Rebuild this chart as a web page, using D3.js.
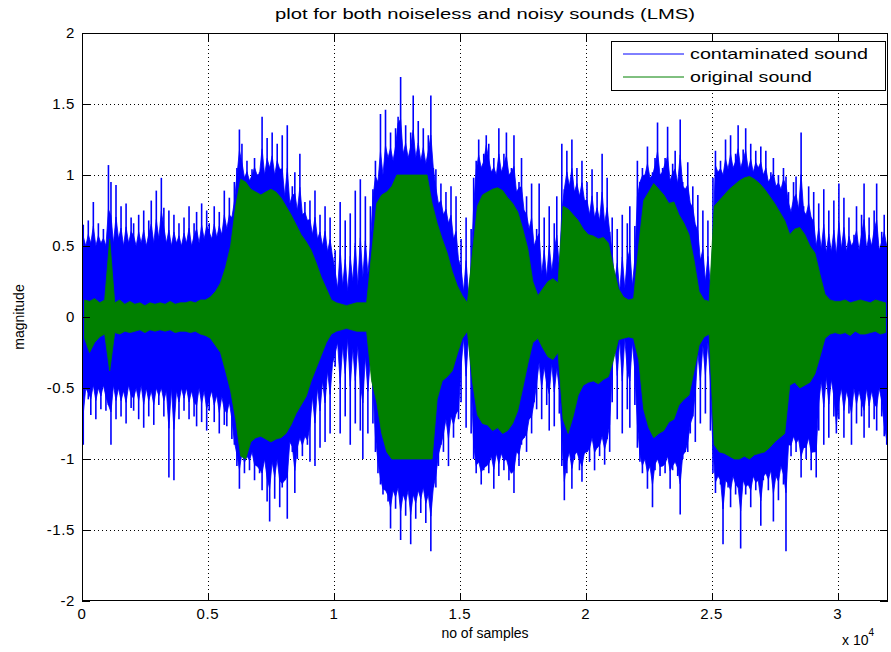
<!DOCTYPE html>
<html><head><meta charset="utf-8">
<script src="https://cdn.jsdelivr.net/npm/d3@7"></script>
<style>
body{margin:0;background:#fff}
svg{display:block}
text{font-family:"Liberation Sans",Arial,Helvetica,sans-serif;fill:#000}
</style>
</head><body>
<svg id="chart" width="891" height="652"></svg>
<script>
// ---------- data ----------
const chartTitle = "plot for both noiseless and noisy sounds (LMS)";
const xAxisLabel = "no of samples";
const yAxisLabel = "magnitude";
const xExponent = "4";
const seriesNames = ["contaminated sound", "original sound"];
const xTickValues = [0, 5000, 10000, 15000, 20000, 25000, 30000];
const xTickLabels = ["0", "0.5", "1", "1.5", "2", "2.5", "3"];
const yTickValues = [-2, -1.5, -1, -0.5, 0, 0.5, 1, 1.5, 2];
const yTickLabels = ["-2", "-1.5", "-1", "-0.5", "0", "0.5", "1", "1.5", "2"];
const sampleCount = 32000;

// contaminated sound: max / min of each block of 100 samples
const contaminatedBlock = 100;
const contaminatedMax = [
0.65,0.50,0.68,0.52,0.81,0.50,0.66,0.52,0.62,0.50,
1.07,0.95,0.52,0.93,0.55,0.78,0.50,0.80,0.52,0.70,
0.66,0.50,0.72,0.52,0.75,0.50,0.68,0.82,0.52,0.89,
0.55,0.98,0.77,0.52,0.75,0.50,0.72,0.52,0.66,0.50,
0.70,0.52,0.78,0.50,0.66,0.74,0.52,0.80,0.55,0.75,
0.66,0.55,0.78,0.56,0.74,0.58,0.89,0.62,0.84,0.70,
0.95,1.05,1.32,1.22,0.98,1.10,0.96,1.04,1.12,1.00,
1.02,1.41,1.00,1.26,1.05,1.30,1.00,1.22,1.04,1.28,
0.85,1.35,0.80,0.92,1.02,0.75,1.15,0.72,0.81,0.68,
0.82,0.58,0.89,0.55,0.72,0.50,0.78,0.46,0.70,0.42,
0.47,0.20,0.81,0.22,0.68,0.18,0.73,0.25,0.89,0.22,
0.97,0.28,0.85,0.30,0.78,0.90,1.10,0.95,1.43,1.00,
1.46,1.12,1.30,1.10,1.33,1.41,1.69,1.15,1.35,1.12,
1.30,1.56,1.12,1.38,1.10,1.33,1.08,1.28,1.56,1.05,
1.04,0.80,0.94,0.72,0.88,0.66,0.92,0.55,0.85,0.40,
0.55,0.18,0.70,0.15,0.62,0.98,1.10,1.25,1.05,1.15,
1.28,1.22,1.02,1.12,1.00,1.33,1.02,1.15,1.30,1.00,
1.05,1.28,0.88,0.95,1.12,0.75,0.85,0.62,0.94,0.50,
0.62,0.94,0.30,0.70,0.28,0.78,0.32,0.66,0.85,0.35,
1.22,0.90,1.17,0.92,1.25,0.88,1.05,0.85,1.10,0.82,
0.95,0.72,1.04,0.70,0.88,0.68,1.15,0.66,0.98,0.60,
0.70,0.25,0.62,0.18,0.72,0.20,0.66,0.78,0.22,0.64,
1.10,0.95,1.05,1.00,1.20,0.98,1.02,1.12,1.37,1.00,
1.05,1.12,1.34,0.96,1.08,1.17,0.94,1.39,0.95,0.90,
1.09,0.80,0.92,0.65,0.86,0.40,0.75,0.25,0.68,0.22,
0.98,1.17,1.02,1.10,1.00,1.25,1.04,1.28,1.05,1.15,
1.35,1.05,1.18,1.33,1.04,1.22,1.02,1.17,1.05,1.20,
1.00,1.17,0.95,1.02,1.12,0.92,1.00,0.90,1.05,0.99,
0.88,0.74,0.95,0.99,0.76,1.30,0.78,0.72,0.92,0.70,
0.88,0.50,0.80,0.48,0.90,0.45,0.75,0.46,0.82,0.44,
0.94,0.48,0.84,0.46,0.70,0.50,0.58,0.78,0.47,0.72,
0.94,0.48,0.70,0.50,0.75,0.94,0.47,0.60,0.72,0.50
];
const contaminatedMin = [
-0.90,-0.50,-0.58,-0.69,-0.48,-0.72,-0.50,-0.65,-0.48,-0.66,
-0.62,-0.90,-0.48,-0.72,-0.50,-0.70,-0.52,-0.75,-0.48,-0.64,
-0.66,-0.50,-0.72,-0.48,-0.78,-0.50,-0.70,-0.52,-0.76,-0.50,
-0.62,-0.50,-0.70,-0.52,-1.13,-0.50,-1.15,-0.52,-0.72,-0.50,
-0.66,-0.50,-0.72,-0.52,-0.70,-0.77,-0.50,-0.74,-0.52,-0.80,
-0.66,-0.52,-0.74,-0.55,-0.82,-0.56,-0.76,-0.77,-0.60,-0.86,
-0.90,-1.05,-1.21,-0.96,-1.10,-0.98,-1.08,-0.95,-1.15,-1.05,
-1.10,-1.22,-1.00,-1.30,-1.44,-1.02,-1.28,-1.00,-1.34,-1.20,
-1.15,-1.42,-0.88,-0.95,-1.24,-1.00,-0.85,-0.98,-0.84,-0.90,
-1.02,-0.56,-1.05,-0.50,-0.92,-0.45,-0.88,-0.38,-0.82,-0.32,
-0.35,-0.18,-0.82,-0.20,-0.70,-0.15,-0.90,-0.22,-0.75,-0.20,
-0.80,-1.00,-0.28,-0.82,-0.30,-0.75,-0.95,-1.10,-1.18,-1.25,
-1.22,-1.30,-1.49,-1.22,-1.35,-1.20,-1.57,-1.25,-1.40,-1.22,
-1.60,-1.25,-1.42,-1.22,-1.38,-1.20,-1.45,-1.25,-1.65,-1.20,
-1.20,-1.05,-0.90,-0.95,-0.72,-1.05,-0.70,-0.85,-0.68,-0.72,
-0.60,-0.15,-0.78,-0.12,-0.82,-1.00,-1.10,-1.02,-1.18,-1.08,
-1.05,-1.10,-0.98,-1.21,-0.96,-1.12,-0.96,-1.08,-1.00,-1.15,
-1.10,-1.24,-0.95,-1.05,-0.90,-0.85,-0.95,-0.72,-0.82,-0.60,
-0.65,-0.32,-0.72,-0.35,-0.62,-0.80,-0.33,-0.77,-0.36,-0.68,
-1.05,-1.29,-1.10,-0.95,-1.21,-1.00,-0.95,-1.08,-1.16,-0.96,
-0.95,-1.02,-0.85,-1.08,-0.92,-0.98,-0.84,-1.04,-0.86,-0.95,
-0.60,-0.18,-0.72,-0.16,-0.82,-0.15,-0.65,-0.78,-0.18,-0.62,
-0.92,-1.02,-1.10,-1.00,-1.21,-1.05,-1.34,-1.08,-1.00,-1.12,
-1.05,-1.10,-0.98,-1.21,-1.08,-1.02,-1.12,-1.39,-1.00,-0.95,
-0.95,-0.82,-0.70,-0.88,-0.25,-0.75,-0.20,-0.68,-0.18,-0.80,
-1.10,-1.24,-1.12,-1.18,-1.60,-1.15,-1.20,-1.34,-1.12,-1.25,
-1.20,-1.63,-1.15,-1.25,-1.18,-1.34,-1.12,-1.22,-1.15,-1.47,
-1.15,-1.10,-1.22,-1.08,-1.44,-1.12,-1.29,-1.05,-1.18,-1.65,
-0.90,-0.98,-0.84,-0.95,-0.86,-1.13,-0.92,-1.00,-0.85,-1.08,
-0.95,-1.13,-0.80,-0.45,-0.90,-0.42,-0.85,-0.44,-0.70,-0.82,
-0.72,-0.50,-0.85,-0.52,-0.68,-0.90,-0.50,-0.75,-0.52,-0.70,
-0.85,-0.50,-0.78,-0.52,-0.72,-0.80,-0.50,-0.70,-0.84,-0.90
];

// original sound: max / min of each block of 200 samples
const originalBlock = 200;
const originalMax = [
0.12,0.11,0.13,0.10,0.12, 0.55,0.10,0.12,0.09,0.11,
0.09,0.10,0.08,0.10,0.09, 0.10,0.09,0.11,0.09,0.10,
0.10,0.11,0.10,0.12,0.12, 0.14,0.18,0.24,0.35,0.50,
0.78,0.97,0.95,0.90,0.88, 0.86,0.88,0.90,0.88,0.84,
0.78,0.72,0.65,0.58,0.53, 0.47,0.38,0.28,0.20,0.12,
0.10,0.09,0.08,0.09,0.10, 0.10,0.10,0.45,0.80,0.86,
0.88,0.92,1.00,1.00,1.00, 1.00,1.00,1.00,1.00,0.80,
0.66,0.55,0.45,0.32,0.22, 0.15,0.10,0.45,0.78,0.86,
0.88,0.90,0.91,0.89,0.84, 0.80,0.74,0.62,0.48,0.25,
0.15,0.20,0.25,0.27,0.24, 0.78,0.76,0.72,0.68,0.62,
0.58,0.57,0.55,0.56,0.52, 0.35,0.20,0.14,0.12,0.13,
0.50,0.82,0.88,0.94,0.90, 0.86,0.80,0.81,0.72,0.66,
0.58,0.40,0.18,0.12,0.11, 0.78,0.82,0.86,0.90,0.93,
0.96,0.98,0.99,0.97,0.94, 0.90,0.85,0.80,0.74,0.68,
0.58,0.62,0.63,0.58,0.50, 0.45,0.30,0.16,0.12,0.11,
0.11,0.12,0.10,0.11,0.12, 0.11,0.10,0.12,0.11,0.10
];
const originalMin = [
-0.15,-0.25,-0.18,-0.14,-0.12, -0.38,-0.11,-0.12,-0.10,-0.11,
-0.10,-0.09,-0.11,-0.09,-0.10, -0.09,-0.10,-0.09,-0.11,-0.10,
-0.10,-0.11,-0.10,-0.12,-0.13, -0.15,-0.20,-0.25,-0.38,-0.52,
-0.72,-0.98,-1.00,-0.88,-0.85, -0.84,-0.86,-0.88,-0.86,-0.85,
-0.82,-0.76,-0.68,-0.62,-0.56, -0.45,-0.36,-0.27,-0.18,-0.12,
-0.10,-0.09,-0.08,-0.09,-0.10, -0.10,-0.10,-0.45,-0.60,-0.82,
-0.95,-1.00,-1.00,-1.00,-1.00, -1.00,-1.00,-1.00,-1.00,-1.00,
-0.58,-0.45,-0.42,-0.38,-0.26, -0.15,-0.10,-0.45,-0.69,-0.75,
-0.76,-0.80,-0.78,-0.82,-0.80, -0.75,-0.66,-0.50,-0.33,-0.18,
-0.15,-0.22,-0.28,-0.30,-0.25, -0.72,-0.82,-0.70,-0.55,-0.48,
-0.46,-0.45,-0.47,-0.44,-0.42, -0.30,-0.16,-0.15,-0.14,-0.15,
-0.30,-0.65,-0.78,-0.85,-0.82, -0.80,-0.74,-0.72,-0.62,-0.58,
-0.55,-0.38,-0.20,-0.14,-0.12, -0.90,-0.95,-0.96,-0.98,-1.00,
-1.00,-0.98,-1.00,-0.97,-0.96, -0.95,-0.92,-0.88,-0.85,-0.82,
-0.48,-0.46,-0.50,-0.48,-0.46, -0.40,-0.28,-0.15,-0.12,-0.11,
-0.12,-0.11,-0.13,-0.10,-0.12, -0.12,-0.11,-0.10,-0.12,-0.11
];

// ---------- drawing ----------
const svg = d3.select("#chart");
const L = 82, R = 888, T = 33, B = 601;
const x = d3.scaleLinear().domain([0, sampleCount]).range([L, R]);
const y = d3.scaleLinear().domain([-2, 2]).range([B, T]);

svg.append("rect").attr("width", 891).attr("height", 652).attr("fill", "#fff");

// grid (under the data)
const grid = svg.append("g").attr("stroke", "#000").attr("stroke-width", 1)
  .attr("stroke-dasharray", "1,3").attr("shape-rendering", "crispEdges");
xTickValues.slice(1).forEach(v => {
  grid.append("line").attr("x1", Math.round(x(v)) + 0.5).attr("x2", Math.round(x(v)) + 0.5)
    .attr("y1", T).attr("y2", B);
});
yTickValues.slice(1, -1).forEach(v => {
  grid.append("line").attr("y1", Math.round(y(v)) + 0.5).attr("y2", Math.round(y(v)) + 0.5)
    .attr("x1", L).attr("x2", R);
});

function rowsOf(maxArr, minArr, block) {
  return maxArr.map((m, i) => ({ s: i * block + block / 2, hi: m, lo: minArr[i] }));
}
// dense body (partly raised toward each peak) + one needle per block
function drawWave(g, rows, color, needleWidth) {
  const body = rows.map((r, i) => {
    const nb = rows.slice(Math.max(0, i - 1), i + 2);
    const hb = d3.min(nb, d => d.hi), lb = d3.max(nb, d => d.lo);
    return { s: r.s, hi: hb + 0.45 * (r.hi - hb), lo: lb + 0.45 * (r.lo - lb) };
  });
  g.append("path")
    .attr("d", d3.area().x(d => x(d.s)).y0(d => y(d.lo)).y1(d => y(d.hi))(body))
    .attr("fill", color).attr("stroke", color).attr("stroke-width", 0.8);
  g.append("g").selectAll("line").data(rows).join("line")
    .attr("x1", d => x(d.s)).attr("x2", d => x(d.s))
    .attr("y1", d => y(d.hi)).attr("y2", d => y(d.lo))
    .attr("stroke", color).attr("stroke-width", needleWidth);
}

const plot = svg.append("g");
drawWave(plot, rowsOf(contaminatedMax, contaminatedMin, contaminatedBlock), "#0000ff", 1.6);
plot.append("path")
  .attr("d", d3.area().x(d => x(d.s)).y0(d => y(d.lo)).y1(d => y(d.hi))
    (rowsOf(originalMax, originalMin, originalBlock)))
  .attr("fill", "#008000").attr("stroke", "#008000").attr("stroke-width", 0.8);

// box
svg.append("rect").attr("x", L + 0.5).attr("y", T + 0.5).attr("width", R - L - 1).attr("height", B - T - 1)
  .attr("fill", "none").attr("stroke", "#000").attr("stroke-width", 1).attr("shape-rendering", "crispEdges");

// ticks (inward, all four sides)
const tk = svg.append("g").attr("stroke", "#000").attr("stroke-width", 1).attr("shape-rendering", "crispEdges");
const tl = 8;
xTickValues.forEach(v => {
  const px = Math.round(x(v)) + 0.5;
  tk.append("line").attr("x1", px).attr("x2", px).attr("y1", B).attr("y2", B - tl);
  tk.append("line").attr("x1", px).attr("x2", px).attr("y1", T).attr("y2", T + tl);
});
yTickValues.forEach(v => {
  const py = Math.round(y(v)) + 0.5;
  tk.append("line").attr("y1", py).attr("y2", py).attr("x1", L).attr("x2", L + tl);
  tk.append("line").attr("y1", py).attr("y2", py).attr("x1", R).attr("x2", R - tl);
});

// tick labels
svg.append("g").selectAll("text").data(xTickValues).join("text")
  .attr("x", d => x(d)).attr("y", 619).attr("text-anchor", "middle")
  .style("font-size", "15px").style("letter-spacing", "0.6px").text((d, i) => xTickLabels[i]);
svg.append("g").selectAll("text").data(yTickValues).join("text")
  .attr("x", 75).attr("y", d => y(d)).attr("dy", "0.36em").attr("text-anchor", "end")
  .style("font-size", "15px").style("letter-spacing", "0.6px").text((d, i) => yTickLabels[i]);

// exponent
const ex = svg.append("text").attr("x", 842).attr("y", 645).style("font-size", "14px");
ex.append("tspan").text("x 10");
ex.append("tspan").attr("dy", -9).style("font-size", "10px").text(xExponent);

// labels
svg.append("text").attr("x", 485).attr("y", 19).attr("text-anchor", "middle")
  .attr("textLength", 420).attr("lengthAdjust", "spacingAndGlyphs")
  .style("font-size", "14px").text(chartTitle);
svg.append("text").attr("x", 485).attr("y", 638).attr("text-anchor", "middle")
  .style("font-size", "14px").text(xAxisLabel);
svg.append("text").attr("transform", "translate(24,317) rotate(-90)").attr("text-anchor", "middle")
  .style("font-size", "14px").text(yAxisLabel);

// legend
const lg = svg.append("g");
lg.append("rect").attr("x", 611.5).attr("y", 41.5).attr("width", 274).attr("height", 49)
  .attr("fill", "#fff").attr("stroke", "#000").attr("stroke-width", 1).attr("shape-rendering", "crispEdges");
const legendColors = ["#0000ff", "#008000"];
const legendWidths = [178, 122];
seriesNames.forEach((name, i) => {
  const yy = 54 + i * 23;
  lg.append("line").attr("x1", 623).attr("x2", 684).attr("y1", yy).attr("y2", yy)
    .attr("stroke", legendColors[i]).attr("stroke-width", 1);
  lg.append("text").attr("x", 690).attr("y", yy).attr("dy", "0.36em")
    .attr("textLength", legendWidths[i]).attr("lengthAdjust", "spacingAndGlyphs")
    .style("font-size", "15px").text(name);
});
</script>
</body></html>
